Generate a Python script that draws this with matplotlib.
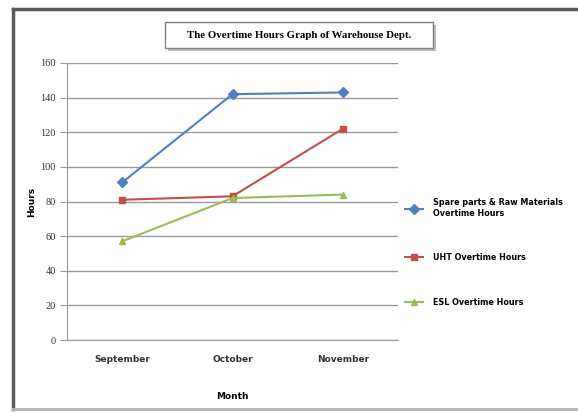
import matplotlib.pyplot as plt
from matplotlib.patches import Rectangle
from matplotlib.lines import Line2D

months = ["September", "October", "November"]
spare_parts = [91, 142, 143]
uht = [81, 83, 122]
esl = [57, 82, 84]
y_ticks = [0, 20, 40, 60, 80, 100, 120, 140, 160]

series = [
    ("Spare parts & Raw Materials\nOvertime Hours", spare_parts, "#4F81BD", "D"),
    ("UHT Overtime Hours", uht, "#C0504D", "s"),
    ("ESL Overtime Hours", esl, "#9BBB59", "^"),
]

fig = plt.figure(figsize=(5.78, 4.12), dpi=100)
W, H = 578, 412

# outer frame
fig.add_artist(Line2D([13 / W, 13 / W], [1 - 409 / H, 1 - 9 / H], color="#5a5a5a", lw=2.5))
fig.add_artist(Line2D([13 / W, 1], [1 - 9 / H, 1 - 9 / H], color="#5a5a5a", lw=2.5))
fig.add_artist(Line2D([13 / W, 1], [1 - 409 / H, 1 - 409 / H], color="#b5b5b5", lw=2))

ax = fig.add_axes([67 / W, 1 - 340 / H, 331 / W, 277 / H])

x = range(len(months))
for label, vals, col, mk in series:
    ax.plot(x, vals, color=col, lw=1.5, marker=mk, markersize=5,
            markeredgecolor=col, label=label)

ax.set_xlim(-0.5, 2.5)
ax.set_ylim(0, 160)
ax.set_yticks(y_ticks)
ax.set_yticklabels([str(v) for v in y_ticks], family="Liberation Serif", fontsize=7.5, color="#333333")
ax.set_xticks(list(x))
ax.set_xticklabels(months, fontsize=6.5, fontweight="bold", color="#333333")
ax.tick_params(axis="y", length=5, color="#999999", pad=3)
ax.tick_params(axis="x", length=0, pad=11)
ax.yaxis.grid(True, color="#999999", lw=1)
ax.set_axisbelow(True)
for s in ["top", "right"]:
    ax.spines[s].set_visible(False)
for s in ["left", "bottom"]:
    ax.spines[s].set_color("#999999")

ax.set_ylabel("Hours", fontsize=6.5, fontweight="bold", labelpad=3)
ax.set_xlabel("Month", fontsize=6.5, fontweight="bold", labelpad=20)

ax.legend(loc="upper left", bbox_to_anchor=(402 / W, 1 - 195 / H), bbox_transform=fig.transFigure,
          frameon=False, prop={"size": 5.8, "weight": "bold"}, labelspacing=4.4,
          handlelength=2.2, handletextpad=1.2, borderaxespad=0)

# title box with shadow
fig.add_artist(Rectangle((168 / W, 1 - 51 / H), 268 / W, 26 / H, transform=fig.transFigure,
                         facecolor="#bdbdbd", edgecolor="none"))
fig.add_artist(Rectangle((165 / W, 1 - 48 / H), 268 / W, 26 / H, transform=fig.transFigure,
                         facecolor="white", edgecolor="#808080", lw=1))
fig.text(299 / W, 1 - 35 / H, "The Overtime Hours Graph of Warehouse Dept.",
         ha="center", va="center", family="Liberation Serif", fontweight="bold", fontsize=7.8)

fig.savefig("out.png", dpi=100)
